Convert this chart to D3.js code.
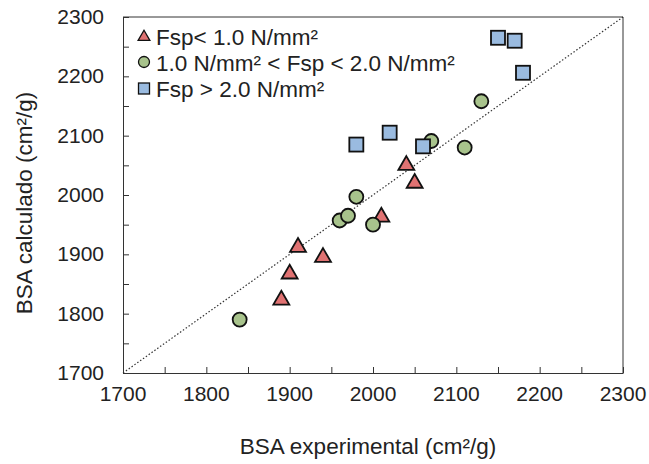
<!DOCTYPE html>
<style>body { margin: 0; }</style>
<svg width="649" height="464" font-family="Liberation Sans, Arial, sans-serif"></svg>
<script src="https://d3js.org/d3.v7.min.js"></script>
<script>
var svg = d3.select("svg");

// data: [experimental, calculado]
var lowFsp = [[1890,1823],[1900,1867],[1910,1912],[1940,1895],[2010,1963],[2040,2050],[2050,2020]];
var midFsp = [[1840,1790],[1960,1957],[1970,1965],[1980,1997],[2000,1950],[2070,2091],[2110,2080],[2130,2158]];
var highFsp = [[1980,2085],[2020,2105],[2060,2082],[2150,2265],[2170,2260],[2180,2206]];
var ticks = [1700,1800,1900,2000,2100,2200,2300];
var minorTicks = d3.range(1700, 2301, 50);
var legendLabels = ["Fsp< 1.0 N/mm²", "1.0 N/mm² < Fsp < 2.0 N/mm²", "Fsp > 2.0 N/mm²"];

var x = d3.scaleLinear().domain([1700, 2300]).range([123, 623]);
var y = d3.scaleLinear().domain([1700, 2300]).range([373, 17]);

var red = "#e07272", green = "#a8c38c", blue = "#9abbe0";
var fs = 21, fsBig = 22.5;

// x axis
svg.append("g")
    .attr("transform", "translate(0," + y(1700) + ")")
    .call(d3.axisBottom(x).tickValues(minorTicks).tickSizeInner(-6).tickSizeOuter(0).tickFormat(""))
    .call(g => g.selectAll("line,path").attr("stroke", "#333"));
svg.append("g").selectAll("text").data(ticks).enter().append("text")
    .attr("x", d => x(d)).attr("y", 401)
    .attr("text-anchor", "middle").attr("font-size", fs).attr("fill", "#222")
    .text(d => d);

// y axis
svg.append("g")
    .attr("transform", "translate(" + x(1700) + ",0)")
    .call(d3.axisLeft(y).tickValues(minorTicks).tickSizeInner(-6).tickSizeOuter(0).tickFormat(""))
    .call(g => g.selectAll("line,path").attr("stroke", "#333"));
svg.append("g").selectAll("text").data(ticks).enter().append("text")
    .attr("x", 104).attr("y", d => y(d) + 7)
    .attr("text-anchor", "end").attr("font-size", fs).attr("fill", "#222")
    .text(d => d);

// frame top/right
svg.append("path")
    .attr("d", "M" + x(1700) + "," + y(2300) + "H" + x(2300) + "V" + y(1700))
    .attr("fill", "none").attr("stroke", "#333");

// 1:1 line
svg.append("line")
    .attr("x1", x(1700)).attr("y1", y(1700)).attr("x2", x(2300)).attr("y2", y(2300))
    .attr("stroke", "#333").attr("stroke-width", 1.2).attr("stroke-dasharray", "1.5,2");

var tri = d3.symbol().type(d3.symbolTriangle).size(110);
var triSmall = d3.symbol().type(d3.symbolTriangle).size(60);

svg.append("g").selectAll("path").data(lowFsp).enter().append("path")
    .attr("d", tri)
    .attr("transform", d => "translate(" + x(d[0]) + "," + y(d[1]) + ")")
    .attr("fill", red).attr("stroke", "#111").attr("stroke-width", 1.8);

svg.append("g").selectAll("circle").data(midFsp).enter().append("circle")
    .attr("cx", d => x(d[0])).attr("cy", d => y(d[1])).attr("r", 7)
    .attr("fill", green).attr("stroke", "#111").attr("stroke-width", 1.8);

svg.append("g").selectAll("rect").data(highFsp).enter().append("rect")
    .attr("x", d => x(d[0]) - 7).attr("y", d => y(d[1]) - 7)
    .attr("width", 14).attr("height", 14)
    .attr("fill", blue).attr("stroke", "#111").attr("stroke-width", 1.8);

// legend
var leg = svg.append("g");
leg.append("path").attr("d", triSmall).attr("transform", "translate(144,37)")
    .attr("fill", red).attr("stroke", "#111").attr("stroke-width", 1.3);
leg.append("circle").attr("cx", 144).attr("cy", 62).attr("r", 5.5)
    .attr("fill", green).attr("stroke", "#111").attr("stroke-width", 1.3);
leg.append("rect").attr("x", 138.5).attr("y", 83).attr("width", 11).attr("height", 11)
    .attr("fill", blue).attr("stroke", "#111").attr("stroke-width", 1.3);
leg.selectAll("text").data(legendLabels).enter().append("text")
    .attr("x", 156).attr("y", (d, i) => 45 + i * 26)
    .attr("font-size", fsBig).attr("fill", "#222")
    .text(d => d);

// axis titles
svg.append("text").attr("x", 368).attr("y", 454)
    .attr("text-anchor", "middle").attr("font-size", fsBig).attr("fill", "#222")
    .text("BSA experimental (cm²/g)");
svg.append("text").attr("transform", "translate(32,203) rotate(-90)")
    .attr("text-anchor", "middle").attr("font-size", fsBig).attr("fill", "#222")
    .text("BSA calculado (cm²/g)");
</script>
